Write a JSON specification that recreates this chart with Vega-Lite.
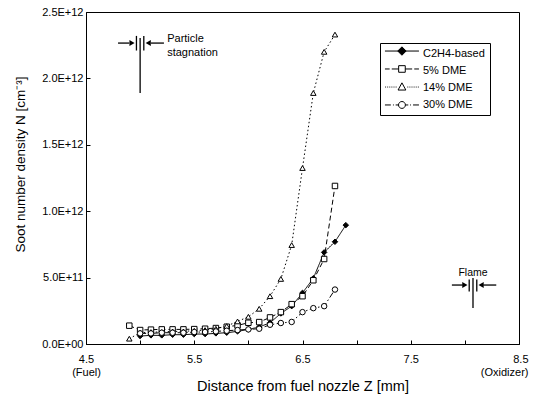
{
  "$schema": "https://vega.github.io/schema/vega-lite/v6.json",
  "width": 433,
  "height": 332,
  "autosize": {"type": "none"},
  "padding": {"left": 86, "top": 12, "right": 18, "bottom": 50},
  "background": "white",
  "config": {
    "font": "Liberation Sans",
    "view": {"stroke": "black", "strokeWidth": 1},
    "axis": {
      "grid": false,
      "domainColor": "black",
      "tickColor": "black",
      "labelColor": "black",
      "titleColor": "black",
      "labelFontSize": 11,
      "titleFontSize": 14,
      "titleFontWeight": "normal",
      "labelFlush": false,
      "labelOverlap": false
    }
  },
  "resolve": {"scale": {"shape": "independent"}},
  "datasets": {
    "soot": [
      {"z": 5.0, "N": 6.0e10, "series": "C2H4-based"},
      {"z": 5.1, "N": 6.5e10, "series": "C2H4-based"},
      {"z": 5.2, "N": 6.5e10, "series": "C2H4-based"},
      {"z": 5.3, "N": 7.0e10, "series": "C2H4-based"},
      {"z": 5.4, "N": 7.0e10, "series": "C2H4-based"},
      {"z": 5.5, "N": 7.5e10, "series": "C2H4-based"},
      {"z": 5.6, "N": 7.5e10, "series": "C2H4-based"},
      {"z": 5.7, "N": 8.0e10, "series": "C2H4-based"},
      {"z": 5.8, "N": 8.5e10, "series": "C2H4-based"},
      {"z": 5.9, "N": 9.5e10, "series": "C2H4-based"},
      {"z": 6.0, "N": 1.1e11, "series": "C2H4-based"},
      {"z": 6.1, "N": 1.28e11, "series": "C2H4-based"},
      {"z": 6.2, "N": 1.6e11, "series": "C2H4-based"},
      {"z": 6.3, "N": 2.3e11, "series": "C2H4-based"},
      {"z": 6.4, "N": 2.85e11, "series": "C2H4-based"},
      {"z": 6.5, "N": 3.85e11, "series": "C2H4-based"},
      {"z": 6.6, "N": 4.95e11, "series": "C2H4-based"},
      {"z": 6.7, "N": 6.9e11, "series": "C2H4-based"},
      {"z": 6.8, "N": 7.7e11, "series": "C2H4-based"},
      {"z": 6.9, "N": 8.95e11, "series": "C2H4-based"},
      {"z": 4.9, "N": 1.38e11, "series": "5% DME"},
      {"z": 5.0, "N": 1.05e11, "series": "5% DME"},
      {"z": 5.1, "N": 1.08e11, "series": "5% DME"},
      {"z": 5.2, "N": 1.1e11, "series": "5% DME"},
      {"z": 5.3, "N": 1.1e11, "series": "5% DME"},
      {"z": 5.4, "N": 1.1e11, "series": "5% DME"},
      {"z": 5.5, "N": 1.12e11, "series": "5% DME"},
      {"z": 5.6, "N": 1.15e11, "series": "5% DME"},
      {"z": 5.7, "N": 1.2e11, "series": "5% DME"},
      {"z": 5.8, "N": 1.3e11, "series": "5% DME"},
      {"z": 5.9, "N": 1.4e11, "series": "5% DME"},
      {"z": 6.0, "N": 1.6e11, "series": "5% DME"},
      {"z": 6.1, "N": 1.65e11, "series": "5% DME"},
      {"z": 6.2, "N": 2.0e11, "series": "5% DME"},
      {"z": 6.3, "N": 2.4e11, "series": "5% DME"},
      {"z": 6.4, "N": 3.0e11, "series": "5% DME"},
      {"z": 6.5, "N": 3.6e11, "series": "5% DME"},
      {"z": 6.6, "N": 4.8e11, "series": "5% DME"},
      {"z": 6.7, "N": 6.4e11, "series": "5% DME"},
      {"z": 6.8, "N": 1.19e12, "series": "5% DME"},
      {"z": 4.9, "N": 4.0e10, "series": "14% DME"},
      {"z": 5.0, "N": 8.5e10, "series": "14% DME"},
      {"z": 5.1, "N": 9.0e10, "series": "14% DME"},
      {"z": 5.2, "N": 9.0e10, "series": "14% DME"},
      {"z": 5.3, "N": 9.5e10, "series": "14% DME"},
      {"z": 5.4, "N": 9.5e10, "series": "14% DME"},
      {"z": 5.5, "N": 1.0e11, "series": "14% DME"},
      {"z": 5.6, "N": 1.05e11, "series": "14% DME"},
      {"z": 5.7, "N": 1.15e11, "series": "14% DME"},
      {"z": 5.8, "N": 1.35e11, "series": "14% DME"},
      {"z": 5.9, "N": 1.7e11, "series": "14% DME"},
      {"z": 6.0, "N": 2.05e11, "series": "14% DME"},
      {"z": 6.1, "N": 2.65e11, "series": "14% DME"},
      {"z": 6.2, "N": 3.6e11, "series": "14% DME"},
      {"z": 6.3, "N": 4.9e11, "series": "14% DME"},
      {"z": 6.4, "N": 7.45e11, "series": "14% DME"},
      {"z": 6.5, "N": 1.325e12, "series": "14% DME"},
      {"z": 6.6, "N": 1.89e12, "series": "14% DME"},
      {"z": 6.7, "N": 2.2e12, "series": "14% DME"},
      {"z": 6.8, "N": 2.33e12, "series": "14% DME"},
      {"z": 5.0, "N": 8.0e10, "series": "30% DME"},
      {"z": 5.1, "N": 8.0e10, "series": "30% DME"},
      {"z": 5.2, "N": 8.5e10, "series": "30% DME"},
      {"z": 5.3, "N": 8.5e10, "series": "30% DME"},
      {"z": 5.4, "N": 8.5e10, "series": "30% DME"},
      {"z": 5.5, "N": 9.0e10, "series": "30% DME"},
      {"z": 5.6, "N": 9.0e10, "series": "30% DME"},
      {"z": 5.7, "N": 9.5e10, "series": "30% DME"},
      {"z": 5.8, "N": 1.0e11, "series": "30% DME"},
      {"z": 5.9, "N": 1.05e11, "series": "30% DME"},
      {"z": 6.0, "N": 1.1e11, "series": "30% DME"},
      {"z": 6.1, "N": 1.15e11, "series": "30% DME"},
      {"z": 6.2, "N": 1.45e11, "series": "30% DME"},
      {"z": 6.3, "N": 1.58e11, "series": "30% DME"},
      {"z": 6.4, "N": 1.66e11, "series": "30% DME"},
      {"z": 6.5, "N": 2.4e11, "series": "30% DME"},
      {"z": 6.6, "N": 2.7e11, "series": "30% DME"},
      {"z": 6.7, "N": 2.85e11, "series": "30% DME"},
      {"z": 6.8, "N": 4.1e11, "series": "30% DME"}
    ],
    "legendRows": [
      {"series": "C2H4-based"},
      {"series": "5% DME"},
      {"series": "14% DME"},
      {"series": "30% DME"}
    ],
    "arrows": [
      {"x1": 4.796, "x2": 4.9, "y1": 2.266e12, "y2": 2.266e12},
      {"x1": 5.1, "x2": 5.22, "y1": 2.266e12, "y2": 2.266e12},
      {"x1": 5.0, "x2": 5.0, "y1": 1.89e12, "y2": 2.304e12},
      {"x1": 4.966, "x2": 4.966, "y1": 2.21e12, "y2": 2.32e12},
      {"x1": 5.034, "x2": 5.034, "y1": 2.21e12, "y2": 2.32e12},
      {"x1": 7.88, "x2": 7.98, "y1": 4.44e11, "y2": 4.44e11},
      {"x1": 8.17, "x2": 8.29, "y1": 4.44e11, "y2": 4.44e11},
      {"x1": 8.075, "x2": 8.075, "y1": 2.71e11, "y2": 4.97e11},
      {"x1": 8.04, "x2": 8.04, "y1": 3.95e11, "y2": 4.85e11},
      {"x1": 8.11, "x2": 8.11, "y1": 3.95e11, "y2": 4.85e11}
    ],
    "headsRight": [
      {"x": 4.925, "y": 2.266e12},
      {"x": 8.0, "y": 4.44e11}
    ],
    "headsLeft": [
      {"x": 5.075, "y": 2.266e12},
      {"x": 8.15, "y": 4.44e11}
    ],
    "labels": [
      {"x": 5.25, "y": 2.342e12, "label": "Particle\nstagnation"}
    ],
    "flame": [
      {"x": 8.075, "y": 5.35e11, "label": "Flame"}
    ]
  },
  "layer": [
    {
      "data": {"name": "soot"},
      "mark": {"type": "line", "stroke": "black", "strokeWidth": 1},
      "encoding": {
        "x": {
          "field": "z", "type": "quantitative",
          "scale": {"domain": [4.5, 8.5], "nice": false, "zero": false},
          "axis": {
            "title": "Distance from fuel nozzle  Z [mm]",
            "values": [4.5, 5, 5.5, 6, 6.5, 7, 7.5, 8, 8.5],
            "labelExpr": "datum.value == 4.5 ? ['4.5', '(Fuel)'] : datum.value == 8.5 ? ['8.5', '(Oxidizer)'] : ((datum.value * 2) % 2 == 1 ? format(datum.value, '.1f') : '')",
            "labelAlign": {"condition": {"test": "datum.value == 8.5", "value": "right"}, "value": "center"},
            "labelOffset": {"condition": {"test": "datum.value == 8.5", "value": 9}, "value": 0},
            "tickSize": -4,
            "labelPadding": 13,
            "labelLineHeight": 13,
            "titleFontSize": 14.5,
            "titleBaseline": "alphabetic",
            "titleY": 46
          }
        },
        "y": {
          "field": "N", "type": "quantitative",
          "scale": {"domain": [0, 2.5e12], "nice": false},
          "axis": {
            "title": "Soot number density N [cm⁻³]",
            "values": [0, 5e11, 1e12, 1.5e12, 2e12, 2.5e12],
            "labelExpr": "datum.value == 0 ? '0.0E+00' : (datum.value < 1e12 ? format(datum.value / 1e11, '.1f') + 'E+11' : format(datum.value / 1e12, '.1f') + 'E+12')",
            "tickSize": -4,
            "labelPadding": 7,
            "titleFontSize": 13.5,
            "titleX": -66,
            "titleY": 152,
            "titleBaseline": "middle"
          }
        },
        "strokeDash": {
          "field": "series", "type": "nominal",
          "scale": {
            "domain": ["C2H4-based", "5% DME", "14% DME", "30% DME"],
            "range": [[1, 0], [5, 3], [1.5, 2.5], [6, 2.5, 1.5, 2.5]]
          },
          "legend": null
        }
      }
    },
    {
      "data": {"name": "soot"},
      "mark": {"type": "point", "filled": true, "stroke": "black", "strokeWidth": 1, "size": 30, "opacity": 1},
      "encoding": {
        "x": {"field": "z", "type": "quantitative"},
        "y": {"field": "N", "type": "quantitative"},
        "shape": {
          "field": "series", "type": "nominal",
          "scale": {
            "domain": ["C2H4-based", "5% DME", "14% DME", "30% DME"],
            "range": ["diamond", "square", "triangle-up", "circle"]
          },
          "legend": null
        },
        "fill": {
          "field": "series", "type": "nominal",
          "scale": {
            "domain": ["C2H4-based", "5% DME", "14% DME", "30% DME"],
            "range": ["black", "white", "white", "white"]
          },
          "legend": null
        }
      }
    },
    {
      "data": {"name": "legendRows"},
      "mark": {"type": "point", "filled": true, "fill": "white", "stroke": "black", "strokeWidth": 1, "size": 36, "opacity": 0},
      "encoding": {
        "x": {"datum": 7.6, "type": "quantitative"},
        "y": {"datum": 2.0e12, "type": "quantitative"},
        "shape": {
          "field": "series", "type": "nominal",
          "scale": {
            "domain": ["C2H4-based", "5% DME", "14% DME", "30% DME"],
            "range": ["diamond", "square", "triangle-up", "circle"]
          },
          "legend": {
            "title": null,
            "orient": "none",
            "legendX": 294,
            "legendY": 31,
            "padding": 5,
            "strokeColor": "black",
            "symbolSize": 36,
            "symbolOpacity": 0,
            "labelFontSize": 11,
            "labelColor": "black",
            "labelOffset": 27,
            "rowPadding": 5
          }
        }
      }
    },
    {
      "data": {"values": [{"series": "C2H4-based"}]},
      "mark": {"type": "point", "shape": "M-1.17,0H10.17M4.5,-1.4L5.9,0L4.5,1.4L3.1,0Z", "filled": true, "fill": "black", "stroke": "black", "strokeWidth": 1, "size": 36, "opacity": 1},
      "encoding": {
        "x": {"datum": 7.294, "type": "quantitative"},
        "y": {"datum": 2.206e12, "type": "quantitative"}
      }
    },
    {
      "data": {"values": [{"series": "5% DME"}]},
      "mark": {"type": "point", "shape": "M-1.17,0H0.4M1.1,0H3.4M5.6,0H7.9M8.6,0H10.17M3.4,-1.1H5.6V1.1H3.4Z", "filled": true, "fill": "white", "stroke": "black", "strokeWidth": 1, "size": 36, "opacity": 1},
      "encoding": {
        "x": {"datum": 7.294, "type": "quantitative"},
        "y": {"datum": 2.071e12, "type": "quantitative"}
      }
    },
    {
      "data": {"values": [{"series": "14% DME"}]},
      "mark": {"type": "point", "shape": "M-1.1,0h0.3M-0.4,0h0.3M0.3,0h0.3M1,0h0.3M1.7,0h0.3M2.4,0h0.3M6.3,0h0.3M7,0h0.3M7.7,0h0.3M8.4,0h0.3M9.1,0h0.3M9.8,0h0.3M4.5,-1.4L5.8,1H3.2Z", "filled": true, "fill": "white", "stroke": "black", "strokeWidth": 1, "size": 36, "opacity": 1},
      "encoding": {
        "x": {"datum": 7.294, "type": "quantitative"},
        "y": {"datum": 1.935e12, "type": "quantitative"}
      }
    },
    {
      "data": {"values": [{"series": "30% DME"}]},
      "mark": {"type": "point", "shape": "M-1.17,0H0.8M1.5,0h0.3M2.4,0H3.35M5.65,0H6.6M7.2,0h0.3M8.2,0H10.17M3.35,0A1.15,1.15,0,1,1,5.65,0A1.15,1.15,0,1,1,3.35,0Z", "filled": true, "fill": "white", "stroke": "black", "strokeWidth": 1, "size": 36, "opacity": 1},
      "encoding": {
        "x": {"datum": 7.294, "type": "quantitative"},
        "y": {"datum": 1.8e12, "type": "quantitative"}
      }
    },
    {
      "data": {"name": "arrows"},
      "mark": {"type": "rule", "color": "black", "strokeWidth": 1.3},
      "encoding": {
        "x": {"field": "x1", "type": "quantitative"},
        "x2": {"field": "x2"},
        "y": {"field": "y1", "type": "quantitative"},
        "y2": {"field": "y2"}
      }
    },
    {
      "data": {"name": "headsRight"},
      "mark": {"type": "point", "shape": "triangle-right", "filled": true, "color": "black", "size": 36, "opacity": 1},
      "encoding": {
        "x": {"field": "x", "type": "quantitative"},
        "y": {"field": "y", "type": "quantitative"}
      }
    },
    {
      "data": {"name": "headsLeft"},
      "mark": {"type": "point", "shape": "triangle-left", "filled": true, "color": "black", "size": 36, "opacity": 1},
      "encoding": {
        "x": {"field": "x", "type": "quantitative"},
        "y": {"field": "y", "type": "quantitative"}
      }
    },
    {
      "data": {"name": "labels"},
      "mark": {"type": "text", "align": "left", "baseline": "top", "fontSize": 11, "lineHeight": 14, "lineBreak": "\n", "color": "black"},
      "encoding": {
        "x": {"field": "x", "type": "quantitative"},
        "y": {"field": "y", "type": "quantitative"},
        "text": {"field": "label"}
      }
    },
    {
      "data": {"name": "flame"},
      "mark": {"type": "text", "align": "center", "baseline": "middle", "fontSize": 10.5, "color": "black"},
      "encoding": {
        "x": {"field": "x", "type": "quantitative"},
        "y": {"field": "y", "type": "quantitative"},
        "text": {"field": "label"}
      }
    }
  ]
}
